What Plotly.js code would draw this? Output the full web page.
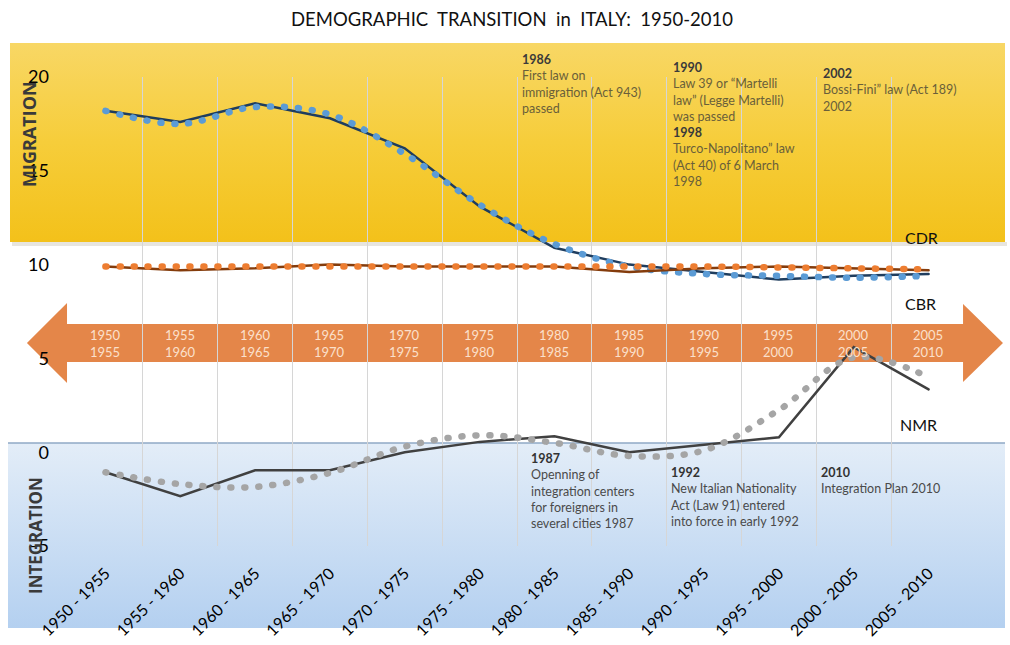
<!DOCTYPE html>
<html>
<head>
<meta charset="utf-8">
<script src="https://cdn.plot.ly/plotly-3.0.1.min.js"></script>
<style>
  html, body { margin: 0; padding: 0; background: #fff; }
  #chart { width: 1010px; height: 645px; }
  /* round caps so the dotted trend lines come out as round dots */
  path.js-line { stroke-linecap: round; }
</style>
</head>
<body>
<div id="chart"></div>
<script>
// periods on the x axis
const periods = ['1950 - 1955', '1955 - 1960', '1960 - 1965', '1965 - 1970', '1970 - 1975', '1975 - 1980',
                 '1980 - 1985', '1985 - 1990', '1990 - 1995', '1995 - 2000', '2000 - 2005', '2005 - 2010'];
const periodStart = ['1950', '1955', '1960', '1965', '1970', '1975', '1980', '1985', '1990', '1995', '2000', '2005'];
const periodEnd   = ['1955', '1960', '1965', '1970', '1975', '1980', '1985', '1990', '1995', '2000', '2005', '2010'];

// crude birth rate (solid) and its smoothed trend (dotted)
const cbr      = [18.2, 17.6, 18.6, 17.8, 16.2, 13.1, 10.9, 10.0, 9.6, 9.2, 9.4, 9.5];
const cbrTrend = [18.2, 17.5, 18.4, 18.0, 15.9, 13.2, 11.1, 9.9, 9.5, 9.4, 9.3, 9.4];

// crude death rate
const cdr      = [9.9, 9.7, 9.8, 10.0, 9.9, 9.9, 9.9, 9.6, 9.8, 9.9, 9.8, 9.7];
const cdrTrend = [9.9, 9.9, 9.9, 9.9, 9.9, 9.9, 9.9, 9.9, 9.9, 9.85, 9.8, 9.75];

// net migration rate
const nmr      = [-1.07, -2.35, -0.96, -0.96, 0.0, 0.55, 0.85, 0.0, 0.4, 0.8, 5.6, 3.35];
const nmrTrend = [-1.07, -1.7, -1.85, -1.1, 0.3, 0.9, 0.5, -0.2, 0.1, 2.25, 5.05, 4.0];

const yTicks = [-5, 0, 5, 10, 15, 20];

// policy notes
const migrationNotes = [
    { year: '1986', lines: ['First law on', 'immigration (Act 943)', 'passed'] },
    { year: '1990', lines: ['Law 39 or “Martelli', 'law” (Legge Martelli)', 'was passed'],
      year2: '1998', lines2: ['Turco-Napolitano” law', '(Act 40) of 6 March', '1998'] },
    { year: '2002', lines: ['Bossi-Fini” law (Act 189)', '2002'] }
];
const integrationNotes = [
    { year: '1987', lines: ['Openning of', 'integration centers', 'for foreigners in', 'several cities 1987'] },
    { year: '1992', lines: ['New Italian Nationality', 'Act (Law 91) entered', 'into force in early 1992'] },
    { year: '2010', lines: ['Integration Plan 2010'] }
];

// ---- layout helpers (pixel -> paper) ----
const L = 68, R = 966, T = 77, B = 546;
const px = x => (x - L) / (R - L);
const py = y => (B - y) / (B - T);
const xs = periods.map((_, i) => i);

const FONT = 'Lato, "Open Sans", sans-serif';

function svgUri(svg) {
    return 'data:image/svg+xml;charset=utf-8,' + encodeURIComponent(svg);
}

const yellowSvg = "<svg xmlns='http://www.w3.org/2000/svg' viewBox='0 0 100 100' preserveAspectRatio='none' width='100' height='100'>" +
    "<defs><linearGradient id='g' x1='0' y1='0' x2='0' y2='1'>" +
    "<stop offset='0' stop-color='#f8d765'/><stop offset='0.5' stop-color='#f6cd3a'/><stop offset='1' stop-color='#f3c11a'/>" +
    "</linearGradient></defs><rect width='100' height='100' fill='url(#g)'/></svg>";

const blueSvg = "<svg xmlns='http://www.w3.org/2000/svg' viewBox='0 0 100 100' preserveAspectRatio='none' width='100' height='100'>" +
    "<defs><linearGradient id='g' x1='0' y1='0' x2='0' y2='1'>" +
    "<stop offset='0' stop-color='#e3edf8'/><stop offset='1' stop-color='#b4d0f0'/>" +
    "</linearGradient></defs><rect width='100' height='100' fill='url(#g)'/></svg>";

function band(svg, x0, y0, x1, y1) {
    return {
        source: svgUri(svg),
        xref: 'paper', yref: 'paper',
        x: px(x0), y: py(y0),
        sizex: px(x1) - px(x0), sizey: py(y0) - py(y1),
        xanchor: 'left', yanchor: 'top',
        sizing: 'stretch', layer: 'below'
    };
}

// ---- traces ----
function solid(y, color, name) {
    return { x: xs, y: y, type: 'scatter', mode: 'lines', name: name,
             line: { color: color, width: 2.5 }, hoverinfo: 'skip' };
}
function dotted(y, color, name) {
    return { x: xs, y: y, type: 'scatter', mode: 'lines', name: name,
             line: { color: color, width: 6.5, dash: '1px,13px', shape: 'spline', smoothing: 1 },
             hoverinfo: 'skip' };
}

const traces = [
    solid(cbr, '#1f3d5e', 'CBR'),
    dotted(cbrTrend, '#5b9bd5', 'CBR trend'),
    solid(cdr, '#843c0c', 'CDR'),
    dotted(cdrTrend, '#ed7d31', 'CDR trend'),
    solid(nmr, '#404040', 'NMR'),
    dotted(nmrTrend, '#a5a5a5', 'NMR trend')
];

// ---- annotations ----
const annotations = [];

function noteText(n, body, yearColor) {
    let t = `<b><span style="color:${yearColor}">${n.year}</span></b><br>` +
        n.lines.map(l => `<span style="color:${body}">${l}</span>`).join('<br>');
    if (n.year2) {
        t += `<br><b><span style="color:${yearColor}">${n.year2}</span></b><br>` +
            n.lines2.map(l => `<span style="color:${body}">${l}</span>`).join('<br>');
    }
    return t;
}

const migPos = [[520, 50], [671, 58], [821, 64]];
migrationNotes.forEach((n, i) => {
    annotations.push({
        xref: 'paper', yref: 'paper', x: px(migPos[i][0]), y: py(migPos[i][1]),
        xanchor: 'left', yanchor: 'top', align: 'left', showarrow: false,
        text: noteText(n, '#6a5f3a', '#3a3a3a'),
        font: { family: FONT, size: 12.5 }
    });
});

const intPos = [[529, 449], [669, 463], [819, 463]];
integrationNotes.forEach((n, i) => {
    annotations.push({
        xref: 'paper', yref: 'paper', x: px(intPos[i][0]), y: py(intPos[i][1]),
        xanchor: 'left', yanchor: 'top', align: 'left', showarrow: false,
        text: noteText(n, '#4a4a4a', '#333333'),
        font: { family: FONT, size: 12.5 }
    });
});

// period labels inside the arrow
periods.forEach((_, i) => {
    annotations.push({
        xref: 'x', yref: 'paper', x: i, y: py(343), xanchor: 'center', yanchor: 'middle',
        text: periodStart[i] + '<br>' + periodEnd[i], showarrow: false,
        font: { family: FONT, size: 13, color: '#fbe0cc' }
    });
});

// series names
[['CDR', 921, 237], ['CBR', 920, 303], ['NMR', 918, 424]].forEach(([t, x, y]) => {
    annotations.push({
        xref: 'paper', yref: 'paper', x: px(x), y: py(y), xanchor: 'center', yanchor: 'middle',
        text: t, showarrow: false,
        font: { family: FONT, size: 16, color: '#111111' }
    });
});

// band titles
annotations.push({
    xref: 'paper', yref: 'paper', x: px(29), y: py(134), xanchor: 'center', yanchor: 'middle',
    text: '<b>MIGRATION</b>', textangle: -90, showarrow: false,
    font: { family: '"Open Sans", sans-serif', size: 18, color: '#3a3a3a' }
});
annotations.push({
    xref: 'paper', yref: 'paper', x: px(35), y: py(536), xanchor: 'center', yanchor: 'middle',
    text: '<b>INTEGRATION</b>', textangle: -90, showarrow: false,
    font: { family: '"Open Sans", sans-serif', size: 17, color: '#3a3a3a' }
});

// ---- shapes: double arrow across the middle ----
const arrowPts = [[27, 343], [67, 303], [67, 324], [963, 324], [963, 304], [1003, 343],
                  [963, 382], [963, 362], [67, 362], [67, 383]];
const arrowPath = 'M' + arrowPts.map(p => px(p[0]).toFixed(4) + ',' + py(p[1]).toFixed(4)).join(' L') + ' Z';

const shapes = [
    // soft shadow under the migration band
    { type: 'rect', xref: 'paper', yref: 'paper', x0: px(12), x1: px(1007), y0: py(242), y1: py(246),
      fillcolor: 'rgba(120,110,80,0.18)', line: { width: 0 }, layer: 'below' },
    // top edge of the integration band
    { type: 'line', xref: 'paper', yref: 'paper', x0: px(8), x1: px(1005), y0: py(443), y1: py(443),
      line: { color: '#8fa9c6', width: 1.5 }, layer: 'below' },
    { type: 'path', xref: 'paper', yref: 'paper', path: arrowPath,
      fillcolor: 'rgba(226,124,58,0.92)', line: { width: 0 }, layer: 'below' }
];

const layout = {
    width: 1010, height: 645,
    margin: { l: L, r: 1010 - R, t: T, b: 645 - B, pad: 0 },
    paper_bgcolor: '#ffffff',
    plot_bgcolor: 'rgba(0,0,0,0)',
    showlegend: false,
    font: { family: FONT, color: '#000' },
    title: {
        text: 'DEMOGRAPHIC  TRANSITION  in  ITALY:  1950-2010',
        font: { family: FONT, size: 18.5, color: '#111' },
        x: 512 / 1010, xanchor: 'center', y: 1 - 20 / 645, yanchor: 'middle', yref: 'container'
    },
    xaxis: {
        range: [-0.5, periods.length - 0.5],
        tickmode: 'array', tickvals: xs, ticktext: periods,
        tickangle: -45, ticks: '', ticklabelstandoff: 14,
        tickfont: { family: FONT, size: 16, color: '#000' },
        showgrid: false, zeroline: false, showline: false,
        minor: { tick0: -0.5, dtick: 1, showgrid: true, gridcolor: '#d6d6d6', gridwidth: 1, ticks: '' },
        fixedrange: true
    },
    yaxis: {
        range: [-5, 20],
        tickmode: 'array', tickvals: yTicks,
        ticks: '', ticklabelstandoff: 18,
        tickfont: { family: FONT, size: 18, color: '#000' },
        showgrid: false, zeroline: false, showline: false,
        fixedrange: true
    },
    images: [
        band(yellowSvg, 10, 43, 1005, 242),
        band(blueSvg, 8, 443, 1005, 628)
    ],
    shapes: shapes,
    annotations: annotations
};

Plotly.newPlot('chart', traces, layout, { displayModeBar: false, staticPlot: true });
</script>
</body>
</html>
